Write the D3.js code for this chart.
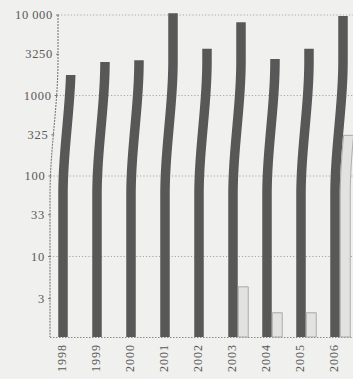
<!DOCTYPE html>
<html>
<head>
<meta charset="utf-8">
<script src="https://cdn.jsdelivr.net/npm/d3@7"></script>
<style>
  html, body { margin: 0; padding: 0; background: #f0f0ee; }
  svg { display: block; }
  text { font-family: "Liberation Serif", "DejaVu Serif", serif; fill: #585858; }
</style>
</head>
<body>
<svg id="chart" width="353" height="379"></svg>
<script>
// Yearly values on a logarithmic scale
const years = ["1998", "1999", "2000", "2001", "2002", "2003", "2004", "2005", "2006"];
const mainValues = [1800, 2600, 2750, 10500, 3800, 8100, 2850, 3800, 9700];
const minorValues = [null, null, null, null, null, 4.2, 2.0, 2.0, 320];
const tickValues = [3, 10, 33, 100, 325, 1000, 3250, 10000];
const tickLabels = ["3", "10", "33", "100", "325", "1000", "3250", "10\u2009000"];
const gridValues = [10, 100, 1000, 10000];

const W = 353, H = 379;
const svg = d3.select("#chart");

const y = d3.scaleLog().domain([1, 10000]).range([337, 15]);
const x = d3.scaleBand().domain(years).range([46, 352]).padding(0);

// gentle sideways bend of the printed sheet, as a function of height
function bend(yy) {
  let t = (195 - yy) / 135;
  t = Math.max(0, Math.min(1, t));
  return 8 * (t * t * (3 - 2 * t));
}

function bentRect(x0, x1, yTop, yBase) {
  const pts = [];
  const step = 2;
  for (let yy = yBase; yy >= yTop; yy -= step) pts.push([x0 + bend(yy), yy]);
  pts.push([x0 + bend(yTop), yTop]);
  pts.push([x1 + bend(yTop), yTop]);
  for (let yy = yTop; yy <= yBase; yy += step) pts.push([x1 + bend(yy), yy]);
  pts.push([x1 + bend(yBase), yBase]);
  return d3.line()(pts) + "Z";
}

const axisX = 50;
const base = y(1);

// gridlines
svg.append("g").selectAll("line").data(gridValues).join("line")
  .attr("x1", d => axisX + bend(y(d)))
  .attr("x2", W)
  .attr("y1", d => y(d)).attr("y2", d => y(d))
  .attr("stroke", "#a8a8a8").attr("stroke-width", 1)
  .attr("stroke-dasharray", "1.2,2");

// baseline
svg.append("line")
  .attr("x1", axisX).attr("x2", W)
  .attr("y1", base + 0.5).attr("y2", base + 0.5)
  .attr("stroke", "#8a8a8a").attr("stroke-width", 1)
  .attr("stroke-dasharray", "1.5,1.5");

// vertical axis following the bend
const axisPts = d3.range(y(10000), base + 1, 2).map(yy => [axisX + bend(yy), yy]);
svg.append("path")
  .attr("d", d3.line()(axisPts))
  .attr("fill", "none").attr("stroke", "#7a7a7a").attr("stroke-width", 1.1)
  .attr("stroke-dasharray", "2,1");

// ticks and labels
const ticks = svg.append("g");
ticks.selectAll("line").data(tickValues).join("line")
  .attr("x1", d => axisX + bend(y(d)) - 2)
  .attr("x2", d => axisX + bend(y(d)) + 1)
  .attr("y1", d => y(d)).attr("y2", d => y(d))
  .attr("stroke", "#7a7a7a");
ticks.selectAll("text").data(tickValues).join("text")
  .attr("x", (d, i) => axisX + bend(y(d)) - 5)
  .attr("y", d => y(d) + 4)
  .attr("text-anchor", "end")
  .attr("font-size", 12.5)
  .attr("letter-spacing", 0.7)
  .text((d, i) => tickLabels[i]);

// dark series
const c = d => x(d) + x.bandwidth() / 2;
svg.append("g").selectAll("path").data(years).join("path")
  .attr("d", (d, i) => bentRect(c(d) - 4.75, c(d) + 4.75, y(mainValues[i]), base))
  .attr("fill", "#585858");

// light series
const minor = years.map((d, i) => ({ year: d, v: minorValues[i] })).filter(o => o.v != null);
svg.append("g").selectAll("path").data(minor).join("path")
  .attr("d", o => bentRect(c(o.year) + 5.25, c(o.year) + 15.25, y(o.v), base))
  .attr("fill", "#e2e2e0").attr("stroke", "#a9a9a9").attr("stroke-width", 1);

// year labels
svg.append("g").selectAll("text").data(years).join("text")
  .attr("transform", d => `translate(${c(d) + 2.5},344) rotate(-90)`)
  .attr("text-anchor", "end")
  .attr("font-size", 12)
  .attr("letter-spacing", 1)
  .text(d => d);
</script>
</body>
</html>
